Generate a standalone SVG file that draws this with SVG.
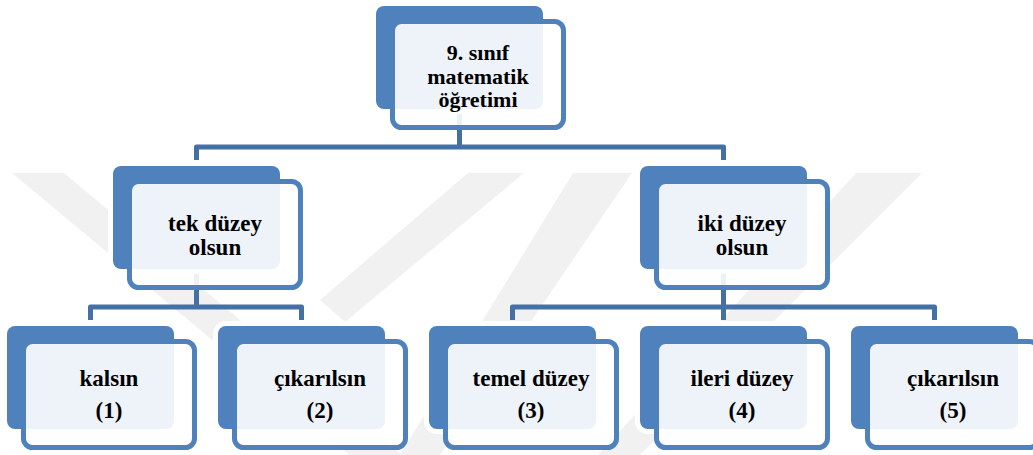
<svg xmlns="http://www.w3.org/2000/svg" width="1033" height="455" viewBox="0 0 1033 455">
<style>
.wm{fill:#F1F1F1}
.conn{fill:none;stroke:#4470A6;stroke-width:5;stroke-linejoin:round}
.back{fill:#4F81BD;stroke:#FFFFFF;stroke-width:10;paint-order:stroke}
.front{fill:#FFFFFF;fill-opacity:0.9;stroke:#4F81BD;stroke-width:5}
.t{font-weight:bold;font-size:23px;fill:#000;text-anchor:middle}
.t.s{font-size:22px}
</style>
<rect width="1033" height="455" fill="#FFFFFF"/>
<g id="watermark">
<polygon class="wm" points="12,173 64,173 402,455 350,455"/>
<polygon class="wm" points="468,173 524,173 345,322 320,300"/>
<polygon class="wm" points="573,173 632,173 440,455 400,455"/>
<polygon class="wm" points="856,173 922,173 640,455 598,455"/>
</g>
<g id="connectors">
<path class="conn" d="M459.5,110 V147 M196.5,160 V147 H723.5 V160"/>
<path class="conn" d="M196.5,270 V307 M90.5,320 V307 H301.5 V320"/>
<path class="conn" d="M723.5,270 V307 M512.5,320 V307 H934.5 V320 M723.5,307 V320"/>
</g>
<g font-family="'Liberation Serif', 'Times New Roman', 'DejaVu Serif', serif">
<g id="node-top">
<rect class="back" x="376" y="6" width="167" height="103" rx="8"/>
<rect class="front" x="392.5" y="21.5" width="171" height="106" rx="9"/>
<text class="t s" x="478" y="60">9. sınıf</text>
<text class="t s" x="478" y="83.5">matematik</text>
<text class="t s" x="478" y="107">öğretimi</text>
</g>
<g id="node-tek">
<rect class="back" x="113" y="166" width="167" height="103" rx="8"/>
<rect class="front" x="129.5" y="181.5" width="171" height="106" rx="9"/>
<text class="t" x="215" y="231">tek düzey</text>
<text class="t" x="215" y="255">olsun</text>
</g>
<g id="node-iki">
<rect class="back" x="640" y="166" width="167" height="103" rx="8"/>
<rect class="front" x="656.5" y="181.5" width="171" height="106" rx="9"/>
<text class="t" x="742" y="231">iki düzey</text>
<text class="t" x="742" y="255">olsun</text>
</g>
<g id="node-1">
<rect class="back" x="7" y="326" width="167" height="103" rx="8"/>
<rect class="front" x="23.5" y="341.5" width="171" height="106" rx="9"/>
<text class="t" x="109" y="386">kalsın</text>
<text class="t" x="109" y="418">(1)</text>
</g>
<g id="node-2">
<rect class="back" x="218" y="326" width="167" height="103" rx="8"/>
<rect class="front" x="234.5" y="341.5" width="171" height="106" rx="9"/>
<text class="t" x="320" y="386">çıkarılsın</text>
<text class="t" x="320" y="418">(2)</text>
</g>
<g id="node-3">
<rect class="back" x="429" y="326" width="167" height="103" rx="8"/>
<rect class="front" x="445.5" y="341.5" width="171" height="106" rx="9"/>
<text class="t" x="531" y="386">temel düzey</text>
<text class="t" x="531" y="418">(3)</text>
</g>
<g id="node-4">
<rect class="back" x="640" y="326" width="167" height="103" rx="8"/>
<rect class="front" x="656.5" y="341.5" width="171" height="106" rx="9"/>
<text class="t" x="742" y="386">ileri düzey</text>
<text class="t" x="742" y="418">(4)</text>
</g>
<g id="node-5">
<rect class="back" x="851" y="326" width="167" height="103" rx="8"/>
<rect class="front" x="867.5" y="341.5" width="171" height="106" rx="9"/>
<text class="t" x="953" y="386">çıkarılsın</text>
<text class="t" x="953" y="418">(5)</text>
</g>
</g>
</svg>
